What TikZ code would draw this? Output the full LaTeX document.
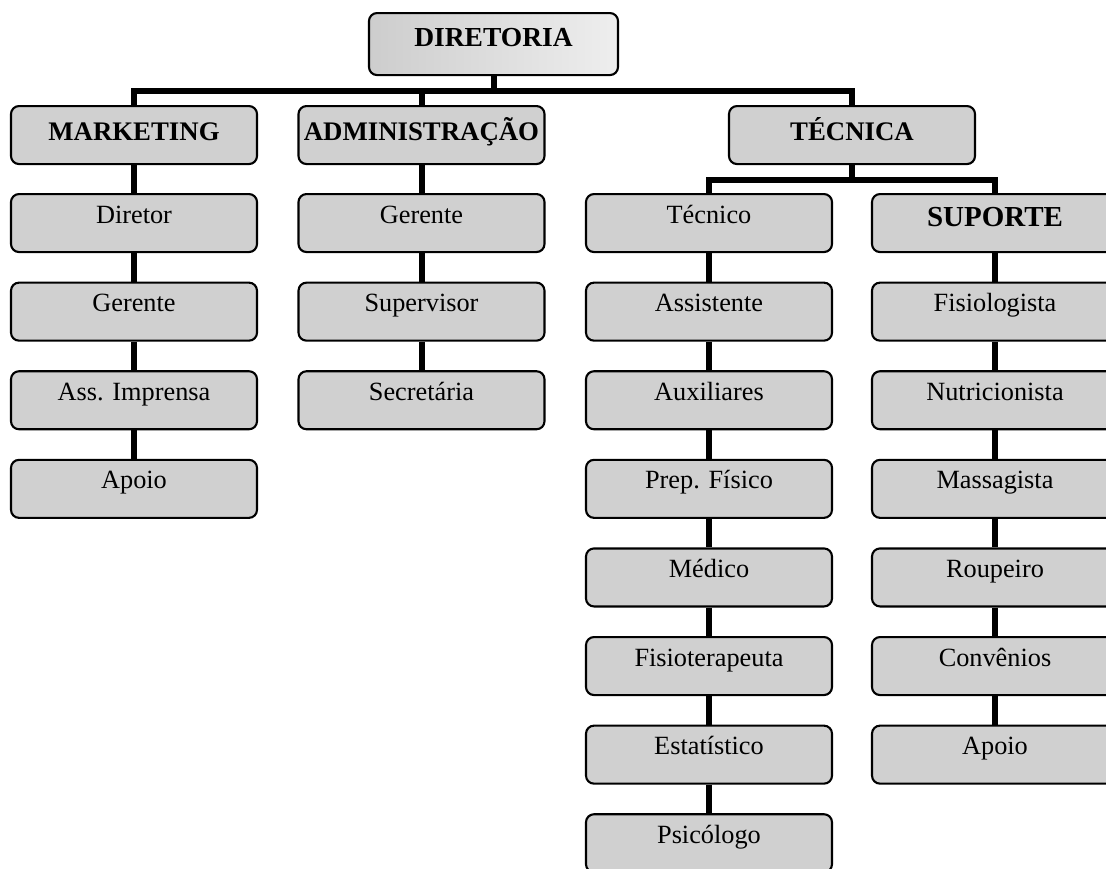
\documentclass[tikz,border=0pt]{standalone}
\usepackage{fontspec}
\setmainfont{Liberation Serif}
\definecolor{boxgray}{RGB}{208,208,208}
\definecolor{shadeA}{RGB}{205,205,205}
\definecolor{shadeB}{RGB}{238,238,238}
\tikzset{
  box/.style={draw=black, line width=2.1pt, rounded corners=8pt, fill=boxgray,
    minimum width=246pt, inner xsep=0pt, inner ysep=0pt,
    text height=29pt, text depth=29pt, anchor=north,
    font=\fontsize{26.3}{30}\selectfont},
  head/.style={box, text height=34pt, text depth=24pt,
    font=\bfseries\fontsize{26.8}{30}\selectfont},
  conn/.style={line width=6pt, line join=miter, draw=black}
}
\begin{document}
\begin{tikzpicture}[x=1pt, y=-1pt]
\path[use as bounding box, clip] (0,0) rectangle (1106,868);
% top
\node[box, minimum width=249pt, text height=33pt, text depth=29pt,
  left color=shadeA, right color=shadeB,
  font=\bfseries\fontsize{27.5}{30}\selectfont] (dir) at (493.5,12) {DIRETORIA};
\node[head] (mkt) at (134,105) {MARKETING};
\node[head] (adm) at (421.5,105) {ADMINISTRAÇÃO};
\node[head] (tec) at (852,105) {TÉCNICA};
% marketing column
\node[box] (m1) at (134,193) {Diretor};
\node[box] (m2) at (134,281.6) {Gerente};
\node[box] (m3) at (134,370.2) {Ass. Imprensa};
\node[box] (m4) at (134,458.8) {Apoio};
% administration column
\node[box] (a1) at (421.5,193) {Gerente};
\node[box] (a2) at (421.5,281.6) {Supervisor};
\node[box] (a3) at (421.5,370.2) {Secretária};
% technical column
\node[box] (t1) at (709,193) {Técnico};
\node[box] (t2) at (709,281.6) {Assistente};
\node[box] (t3) at (709,370.2) {Auxiliares};
\node[box] (t4) at (709,458.8) {Prep. Físico};
\node[box] (t5) at (709,547.4) {Médico};
\node[box] (t6) at (709,636) {Fisioterapeuta};
\node[box] (t7) at (709,724.6) {Estatístico};
\node[box] (t8) at (709,813.2) {Psicólogo};
% support column
\node[box, text height=32pt, text depth=26pt, font=\bfseries\fontsize{29}{32}\selectfont] (s0) at (995,193) {SUPORTE};
\node[box] (s1) at (995,281.6) {Fisiologista};
\node[box] (s2) at (995,370.2) {Nutricionista};
\node[box] (s3) at (995,458.8) {Massagista};
\node[box] (s4) at (995,547.4) {Roupeiro};
\node[box] (s5) at (995,636) {Convênios};
\node[box] (s6) at (995,724.6) {Apoio};
% buses
\coordinate (b1) at (0,91);
\coordinate (b2) at (0,180);
\draw[conn] (mkt.north) -- (mkt.north |- b1) -- (tec.north |- b1) -- (tec.north);
\draw[conn] (dir.south) -- (dir.south |- b1);
\draw[conn] (adm.north) -- (adm.north |- b1);
\draw[conn] (t1.north) -- (t1.north |- b2) -- (s0.north |- b2) -- (s0.north);
\draw[conn] (tec.south) -- (tec.south |- b2);
\draw[conn] (mkt.south) -- (m1.north);
\draw[conn] (m1.south) -- (m2.north);
\draw[conn] (m2.south) -- (m3.north);
\draw[conn] (m3.south) -- (m4.north);
\draw[conn] (adm.south) -- (a1.north);
\draw[conn] (a1.south) -- (a2.north);
\draw[conn] (a2.south) -- (a3.north);
\draw[conn] (t1.south) -- (t2.north);
\draw[conn] (t2.south) -- (t3.north);
\draw[conn] (t3.south) -- (t4.north);
\draw[conn] (t4.south) -- (t5.north);
\draw[conn] (t5.south) -- (t6.north);
\draw[conn] (t6.south) -- (t7.north);
\draw[conn] (t7.south) -- (t8.north);
\draw[conn] (s0.south) -- (s1.north);
\draw[conn] (s1.south) -- (s2.north);
\draw[conn] (s2.south) -- (s3.north);
\draw[conn] (s3.south) -- (s4.north);
\draw[conn] (s4.south) -- (s5.north);
\draw[conn] (s5.south) -- (s6.north);
\end{tikzpicture}
\end{document}
